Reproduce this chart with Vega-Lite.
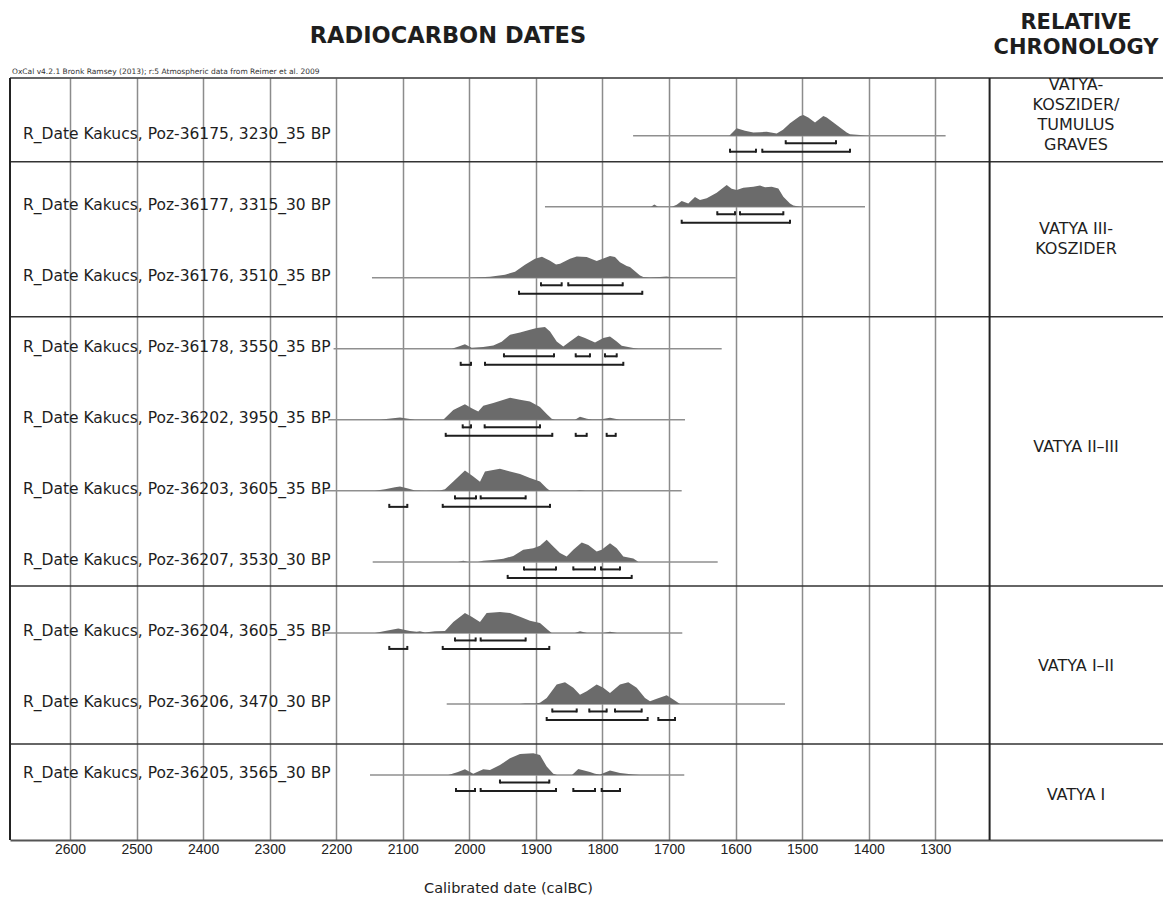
{
  "$schema": "https://vega.github.io/schema/vega-lite/v6.json",
  "width": 1153,
  "height": 762,
  "autosize": "none",
  "padding": {"left": 10, "top": 78, "right": 0, "bottom": 64},
  "background": "#ffffff",
  "config": {"view": {"stroke": null}, "font": "DejaVu Sans"},
  "resolve": {"scale": {"y": "independent"}},
  "datasets": {
    "samples": [
      {"row": 1, "label": "R_Date Kakucs, Poz-36175, 3230_35 BP", "from": 1754, "to": 1284.5},
      {"row": 2, "label": "R_Date Kakucs, Poz-36177, 3315_30 BP", "from": 1886.4, "to": 1405.6},
      {"row": 3, "label": "R_Date Kakucs, Poz-36176, 3510_35 BP", "from": 2146.3, "to": 1599.8},
      {"row": 4, "label": "R_Date Kakucs, Poz-36178, 3550_35 BP", "from": 2204, "to": 1620.9},
      {"row": 5, "label": "R_Date Kakucs, Poz-36202, 3950_35 BP", "from": 2211.9, "to": 1676},
      {"row": 6, "label": "R_Date Kakucs, Poz-36203, 3605_35 BP", "from": 2216.9, "to": 1681},
      {"row": 7, "label": "R_Date Kakucs, Poz-36207, 3530_30 BP", "from": 2145.2, "to": 1626.9},
      {"row": 8, "label": "R_Date Kakucs, Poz-36204, 3605_35 BP", "from": 2216.9, "to": 1680.1},
      {"row": 9, "label": "R_Date Kakucs, Poz-36206, 3470_30 BP", "from": 2034, "to": 1525.8},
      {"row": 10, "label": "R_Date Kakucs, Poz-36205, 3565_30 BP", "from": 2149.3, "to": 1677.1}
    ],
    "sigma68": [
      {"row": 1, "from": 1524.7, "to": 1449.2},
      {"row": 2, "from": 1627.5, "to": 1600.9}, {"row": 2, "from": 1593.4, "to": 1528.3},
      {"row": 3, "from": 1892.4, "to": 1861.3}, {"row": 3, "from": 1851.4, "to": 1769.6},
      {"row": 4, "from": 1948, "to": 1872.8}, {"row": 4, "from": 1840.2, "to": 1818.8}, {"row": 4, "from": 1796.2, "to": 1778.6},
      {"row": 5, "from": 2010, "to": 1997.5}, {"row": 5, "from": 1977, "to": 1893.9},
      {"row": 6, "from": 2021.6, "to": 1990}, {"row": 6, "from": 1983, "to": 1915.4},
      {"row": 7, "from": 1917.9, "to": 1869.8}, {"row": 7, "from": 1843.8, "to": 1811.2}, {"row": 7, "from": 1802.2, "to": 1773.7},
      {"row": 8, "from": 2021.6, "to": 1990.5}, {"row": 8, "from": 1983, "to": 1915.4},
      {"row": 9, "from": 1875.4, "to": 1838.7}, {"row": 9, "from": 1819.8, "to": 1793.7}, {"row": 9, "from": 1781.2, "to": 1741.1},
      {"row": 10, "from": 1954, "to": 1879.9}
    ],
    "sigma95": [
      {"row": 1, "from": 1608.4, "to": 1569.4}, {"row": 1, "from": 1559.9, "to": 1428.1},
      {"row": 2, "from": 1681, "to": 1518.3},
      {"row": 3, "from": 1925.4, "to": 1740.2},
      {"row": 4, "from": 2013, "to": 1997.5}, {"row": 4, "from": 1976.5, "to": 1768.7},
      {"row": 5, "from": 2035.5, "to": 1875.4}, {"row": 5, "from": 1840.2, "to": 1823.7}, {"row": 5, "from": 1793.7, "to": 1780.1},
      {"row": 6, "from": 2120.3, "to": 2093.2}, {"row": 6, "from": 2040, "to": 1878.8},
      {"row": 7, "from": 1942.4, "to": 1756.1},
      {"row": 8, "from": 2120.3, "to": 2093.2}, {"row": 8, "from": 2040, "to": 1879.9},
      {"row": 9, "from": 1883.8, "to": 1732.1}, {"row": 9, "from": 1716.1, "to": 1691},
      {"row": 10, "from": 2020.1, "to": 1991.5}, {"row": 10, "from": 1983, "to": 1869.8}, {"row": 10, "from": 1843.8, "to": 1811.2}, {"row": 10, "from": 1801.2, "to": 1773.7}
    ],
    "density": [
      {"row": 1, "year": 1609.5, "p": 0}, {"row": 1, "year": 1598.4, "p": 0.34}, {"row": 1, "year": 1585.9, "p": 0.23}, {"row": 1, "year": 1573.4, "p": 0.14}, {"row": 1, "year": 1563.3, "p": 0.16}, {"row": 1, "year": 1553.3, "p": 0.18}, {"row": 1, "year": 1538.3, "p": 0.1}, {"row": 1, "year": 1528.8, "p": 0.27}, {"row": 1, "year": 1518.3, "p": 0.56}, {"row": 1, "year": 1503.2, "p": 0.9}, {"row": 1, "year": 1498.3, "p": 0.94}, {"row": 1, "year": 1490.8, "p": 0.83}, {"row": 1, "year": 1480.7, "p": 0.6}, {"row": 1, "year": 1468.2, "p": 0.9}, {"row": 1, "year": 1463.1, "p": 0.83}, {"row": 1, "year": 1448.1, "p": 0.49}, {"row": 1, "year": 1433.1, "p": 0.14}, {"row": 1, "year": 1428.1, "p": 0.06}, {"row": 1, "year": 1413.1, "p": 0.03}, {"row": 1, "year": 1404.1, "p": 0},
      {"row": 2, "year": 1727.1, "p": 0}, {"row": 2, "year": 1722.1, "p": 0.1}, {"row": 2, "year": 1716.6, "p": 0}, {"row": 2, "year": 1695.6, "p": 0}, {"row": 2, "year": 1688.5, "p": 0.09}, {"row": 2, "year": 1681, "p": 0.26}, {"row": 2, "year": 1671.1, "p": 0.15}, {"row": 2, "year": 1661, "p": 0.44}, {"row": 2, "year": 1653.5, "p": 0.3}, {"row": 2, "year": 1643.4, "p": 0.38}, {"row": 2, "year": 1628.4, "p": 0.64}, {"row": 2, "year": 1613.4, "p": 0.99}, {"row": 2, "year": 1605.9, "p": 0.82}, {"row": 2, "year": 1598.4, "p": 0.76}, {"row": 2, "year": 1588.4, "p": 0.86}, {"row": 2, "year": 1573.4, "p": 0.91}, {"row": 2, "year": 1563.3, "p": 0.97}, {"row": 2, "year": 1555.8, "p": 0.88}, {"row": 2, "year": 1545.8, "p": 0.91}, {"row": 2, "year": 1535.8, "p": 0.83}, {"row": 2, "year": 1528.3, "p": 0.45}, {"row": 2, "year": 1518.3, "p": 0.15}, {"row": 2, "year": 1513.3, "p": 0.06}, {"row": 2, "year": 1503.2, "p": 0},
      {"row": 3, "year": 1999, "p": 0}, {"row": 3, "year": 1969, "p": 0.05}, {"row": 3, "year": 1946.5, "p": 0.14}, {"row": 3, "year": 1931.4, "p": 0.27}, {"row": 3, "year": 1916.4, "p": 0.59}, {"row": 3, "year": 1901.4, "p": 0.86}, {"row": 3, "year": 1890.9, "p": 0.95}, {"row": 3, "year": 1878.8, "p": 0.77}, {"row": 3, "year": 1869.8, "p": 0.6}, {"row": 3, "year": 1863.8, "p": 0.64}, {"row": 3, "year": 1848.8, "p": 0.86}, {"row": 3, "year": 1838.7, "p": 0.97}, {"row": 3, "year": 1823.7, "p": 0.94}, {"row": 3, "year": 1808.7, "p": 0.76}, {"row": 3, "year": 1788.7, "p": 0.99}, {"row": 3, "year": 1781.2, "p": 0.94}, {"row": 3, "year": 1773.7, "p": 0.71}, {"row": 3, "year": 1763.6, "p": 0.53}, {"row": 3, "year": 1758.7, "p": 0.49}, {"row": 3, "year": 1743.6, "p": 0.1}, {"row": 3, "year": 1738.7, "p": 0.03}, {"row": 3, "year": 1728.6, "p": 0.01}, {"row": 3, "year": 1713.6, "p": 0.03}, {"row": 3, "year": 1703.5, "p": 0.06}, {"row": 3, "year": 1693.6, "p": 0},
      {"row": 4, "year": 2026.5, "p": 0}, {"row": 4, "year": 2017.1, "p": 0.09}, {"row": 4, "year": 2006.6, "p": 0.21}, {"row": 4, "year": 1996.5, "p": 0.05}, {"row": 4, "year": 1979.1, "p": 0.08}, {"row": 4, "year": 1964, "p": 0.15}, {"row": 4, "year": 1951.4, "p": 0.32}, {"row": 4, "year": 1938.9, "p": 0.64}, {"row": 4, "year": 1923.9, "p": 0.74}, {"row": 4, "year": 1908.9, "p": 0.86}, {"row": 4, "year": 1898.8, "p": 0.94}, {"row": 4, "year": 1886.4, "p": 0.99}, {"row": 4, "year": 1878.8, "p": 0.79}, {"row": 4, "year": 1868.8, "p": 0.33}, {"row": 4, "year": 1858.9, "p": 0.1}, {"row": 4, "year": 1848.8, "p": 0.33}, {"row": 4, "year": 1836.3, "p": 0.6}, {"row": 4, "year": 1826.3, "p": 0.49}, {"row": 4, "year": 1811.2, "p": 0.29}, {"row": 4, "year": 1798.8, "p": 0.49}, {"row": 4, "year": 1788.7, "p": 0.56}, {"row": 4, "year": 1778.6, "p": 0.33}, {"row": 4, "year": 1771.1, "p": 0.14}, {"row": 4, "year": 1753.7, "p": 0.03}, {"row": 4, "year": 1746.2, "p": 0},
      {"row": 5, "year": 2134.3, "p": 0}, {"row": 5, "year": 2121.8, "p": 0.05}, {"row": 5, "year": 2104.2, "p": 0.1}, {"row": 5, "year": 2091.7, "p": 0.05}, {"row": 5, "year": 2081.7, "p": 0}, {"row": 5, "year": 2039.2, "p": 0}, {"row": 5, "year": 2024.1, "p": 0.45}, {"row": 5, "year": 2006.6, "p": 0.71}, {"row": 5, "year": 1996.5, "p": 0.53}, {"row": 5, "year": 1986.6, "p": 0.38}, {"row": 5, "year": 1979.1, "p": 0.64}, {"row": 5, "year": 1964, "p": 0.76}, {"row": 5, "year": 1938.9, "p": 1}, {"row": 5, "year": 1923.9, "p": 0.91}, {"row": 5, "year": 1908.9, "p": 0.83}, {"row": 5, "year": 1893.9, "p": 0.58}, {"row": 5, "year": 1883.8, "p": 0.26}, {"row": 5, "year": 1876.3, "p": 0.05}, {"row": 5, "year": 1871.3, "p": 0}, {"row": 5, "year": 1841.3, "p": 0}, {"row": 5, "year": 1833.8, "p": 0.14}, {"row": 5, "year": 1823.3, "p": 0.05}, {"row": 5, "year": 1815.7, "p": 0.02}, {"row": 5, "year": 1803.7, "p": 0.01}, {"row": 5, "year": 1788.7, "p": 0.09}, {"row": 5, "year": 1773.7, "p": 0},
      {"row": 6, "year": 2141.8, "p": 0}, {"row": 6, "year": 2126.7, "p": 0.07}, {"row": 6, "year": 2111.7, "p": 0.16}, {"row": 6, "year": 2104.2, "p": 0.2}, {"row": 6, "year": 2092.2, "p": 0.11}, {"row": 6, "year": 2081.7, "p": 0.02}, {"row": 6, "year": 2066.6, "p": 0}, {"row": 6, "year": 2044.1, "p": 0.02}, {"row": 6, "year": 2036.6, "p": 0.07}, {"row": 6, "year": 2024.1, "p": 0.42}, {"row": 6, "year": 2006.6, "p": 0.92}, {"row": 6, "year": 1994.1, "p": 0.65}, {"row": 6, "year": 1984, "p": 0.41}, {"row": 6, "year": 1976.5, "p": 0.88}, {"row": 6, "year": 1954, "p": 1}, {"row": 6, "year": 1938.9, "p": 0.88}, {"row": 6, "year": 1923.9, "p": 0.77}, {"row": 6, "year": 1908.9, "p": 0.58}, {"row": 6, "year": 1893.9, "p": 0.42}, {"row": 6, "year": 1883.8, "p": 0.12}, {"row": 6, "year": 1878.8, "p": 0}, {"row": 6, "year": 1840, "p": 0}, {"row": 6, "year": 1833.8, "p": 0.03}, {"row": 6, "year": 1826, "p": 0}, {"row": 6, "year": 1795, "p": 0}, {"row": 6, "year": 1788.7, "p": 0.02}, {"row": 6, "year": 1782, "p": 0},
      {"row": 7, "year": 2017.1, "p": 0}, {"row": 7, "year": 2009.1, "p": 0.05}, {"row": 7, "year": 2002, "p": 0}, {"row": 7, "year": 1987, "p": 0.01}, {"row": 7, "year": 1979.1, "p": 0.05}, {"row": 7, "year": 1964, "p": 0.09}, {"row": 7, "year": 1949, "p": 0.14}, {"row": 7, "year": 1934, "p": 0.27}, {"row": 7, "year": 1919, "p": 0.55}, {"row": 7, "year": 1903.9, "p": 0.62}, {"row": 7, "year": 1893.9, "p": 0.73}, {"row": 7, "year": 1883.8, "p": 1}, {"row": 7, "year": 1873.9, "p": 0.7}, {"row": 7, "year": 1863.8, "p": 0.4}, {"row": 7, "year": 1853.8, "p": 0.24}, {"row": 7, "year": 1843.8, "p": 0.55}, {"row": 7, "year": 1831.2, "p": 0.88}, {"row": 7, "year": 1821.3, "p": 0.77}, {"row": 7, "year": 1808.7, "p": 0.47}, {"row": 7, "year": 1801.2, "p": 0.55}, {"row": 7, "year": 1788.7, "p": 0.85}, {"row": 7, "year": 1778.6, "p": 0.62}, {"row": 7, "year": 1768.7, "p": 0.24}, {"row": 7, "year": 1753.7, "p": 0.15}, {"row": 7, "year": 1746.2, "p": 0},
      {"row": 8, "year": 2141.8, "p": 0}, {"row": 8, "year": 2126.7, "p": 0.09}, {"row": 8, "year": 2106.8, "p": 0.2}, {"row": 8, "year": 2089.2, "p": 0.09}, {"row": 8, "year": 2079.2, "p": 0.05}, {"row": 8, "year": 2074.2, "p": 0.07}, {"row": 8, "year": 2066.6, "p": 0.02}, {"row": 8, "year": 2051.6, "p": 0.07}, {"row": 8, "year": 2036.6, "p": 0.09}, {"row": 8, "year": 2024.1, "p": 0.5}, {"row": 8, "year": 2006.6, "p": 0.91}, {"row": 8, "year": 1996.5, "p": 0.73}, {"row": 8, "year": 1984, "p": 0.5}, {"row": 8, "year": 1974, "p": 0.91}, {"row": 8, "year": 1954, "p": 0.95}, {"row": 8, "year": 1938.9, "p": 0.91}, {"row": 8, "year": 1923.9, "p": 0.73}, {"row": 8, "year": 1908.9, "p": 0.55}, {"row": 8, "year": 1893.9, "p": 0.45}, {"row": 8, "year": 1881.4, "p": 0.12}, {"row": 8, "year": 1876.3, "p": 0}, {"row": 8, "year": 1841.3, "p": 0}, {"row": 8, "year": 1833.8, "p": 0.08}, {"row": 8, "year": 1823.3, "p": 0}, {"row": 8, "year": 1799, "p": 0}, {"row": 8, "year": 1788.7, "p": 0.05}, {"row": 8, "year": 1778.2, "p": 0},
      {"row": 9, "year": 1923.9, "p": 0}, {"row": 9, "year": 1916.4, "p": 0.02}, {"row": 9, "year": 1901.4, "p": 0.02}, {"row": 9, "year": 1893.9, "p": 0.05}, {"row": 9, "year": 1883.8, "p": 0.27}, {"row": 9, "year": 1868.8, "p": 0.88}, {"row": 9, "year": 1856.3, "p": 0.99}, {"row": 9, "year": 1843.8, "p": 0.73}, {"row": 9, "year": 1833.8, "p": 0.42}, {"row": 9, "year": 1823.7, "p": 0.58}, {"row": 9, "year": 1808.7, "p": 0.88}, {"row": 9, "year": 1798.8, "p": 0.73}, {"row": 9, "year": 1788.7, "p": 0.5}, {"row": 9, "year": 1773.7, "p": 0.88}, {"row": 9, "year": 1761.2, "p": 0.99}, {"row": 9, "year": 1748.6, "p": 0.73}, {"row": 9, "year": 1736.1, "p": 0.27}, {"row": 9, "year": 1728.6, "p": 0.12}, {"row": 9, "year": 1718.5, "p": 0.23}, {"row": 9, "year": 1703.5, "p": 0.4}, {"row": 9, "year": 1693.6, "p": 0.2}, {"row": 9, "year": 1683.5, "p": 0},
      {"row": 10, "year": 2031.6, "p": 0}, {"row": 10, "year": 2017.1, "p": 0.14}, {"row": 10, "year": 2006.6, "p": 0.26}, {"row": 10, "year": 1994.1, "p": 0.05}, {"row": 10, "year": 1979.1, "p": 0.26}, {"row": 10, "year": 1969, "p": 0.23}, {"row": 10, "year": 1954, "p": 0.45}, {"row": 10, "year": 1938.9, "p": 0.76}, {"row": 10, "year": 1923.9, "p": 0.95}, {"row": 10, "year": 1903.9, "p": 0.99}, {"row": 10, "year": 1893.9, "p": 0.91}, {"row": 10, "year": 1883.8, "p": 0.38}, {"row": 10, "year": 1873.9, "p": 0.05}, {"row": 10, "year": 1868.3, "p": 0}, {"row": 10, "year": 1845.8, "p": 0}, {"row": 10, "year": 1836.3, "p": 0.27}, {"row": 10, "year": 1818.8, "p": 0.14}, {"row": 10, "year": 1811.2, "p": 0.05}, {"row": 10, "year": 1803.7, "p": 0.02}, {"row": 10, "year": 1788.7, "p": 0.2}, {"row": 10, "year": 1773.7, "p": 0.09}, {"row": 10, "year": 1754.1, "p": 0.02}, {"row": 10, "year": 1743.6, "p": 0}
    ],
    "bounds": [{"b": 0.1877}, {"b": 1.366}, {"b": 3.548}, {"b": 7.34}, {"b": 9.564}],
    "groups": [
      {"label": "VATYA-\nKOSZIDER/\nTUMULUS\nGRAVES", "y": 0.286},
      {"label": "VATYA III-\nKOSZIDER", "y": 2.313},
      {"label": "VATYA II–III", "y": 5.383},
      {"label": "VATYA I–II", "y": 8.466},
      {"label": "VATYA I", "y": 10.282}
    ]
  },
  "layer": [
    {
      "data": {"name": "samples"},
      "mark": {"type": "rule", "color": "#8f8f8f", "strokeWidth": 1.5},
      "encoding": {
        "x": {
          "field": "from", "type": "quantitative",
          "scale": {"domain": [957.9, 2690.1], "reverse": true, "nice": false, "zero": false},
          "axis": {
            "values": [2600, 2500, 2400, 2300, 2200, 2100, 2000, 1900, 1800, 1700, 1600, 1500, 1400, 1300],
            "format": "d", "grid": true, "gridColor": "#8c8c8c", "gridWidth": 1.5,
            "ticks": false, "domainColor": "#555555", "domainWidth": 2,
            "labelFont": "Liberation Sans", "labelFontSize": 14, "labelColor": "#222222", "labelPadding": 2, "labelFlush": false, "labelOverlap": false,
            "title": "Calibrated date (calBC)", "titleFont": "DejaVu Sans", "titleFontSize": 14.5, "titleFontWeight": "normal", "titleColor": "#222222",
            "titleX": 498, "titleY": 52, "titleAlign": "center", "titleBaseline": "alphabetic"
          }
        },
        "x2": {"field": "to"},
        "y": {"field": "row", "type": "quantitative", "scale": {"domain": [0.1877, 10.915], "reverse": true, "nice": false, "zero": false}, "axis": null}
      }
    },
    {"data": {"name": "density"}, "transform": [{"filter": {"field": "row", "equal": 1}}], "mark": {"type": "area", "color": "#6b6b6b", "interpolate": "linear"},
      "encoding": {"x": {"field": "year", "type": "quantitative"}, "y": {"field": "p", "type": "quantitative", "stack": null, "axis": null, "scale": {"domain": [-32.014, 2.622], "nice": false, "zero": false}}, "y2": {"datum": 0}}},
    {"data": {"name": "density"}, "transform": [{"filter": {"field": "row", "equal": 2}}], "mark": {"type": "area", "color": "#6b6b6b", "interpolate": "linear"},
      "encoding": {"x": {"field": "year", "type": "quantitative"}, "y": {"field": "p", "type": "quantitative", "stack": null, "axis": null, "scale": {"domain": [-28.785, 5.851], "nice": false, "zero": false}}, "y2": {"datum": 0}}},
    {"data": {"name": "density"}, "transform": [{"filter": {"field": "row", "equal": 3}}], "mark": {"type": "area", "color": "#6b6b6b", "interpolate": "linear"},
      "encoding": {"x": {"field": "year", "type": "quantitative"}, "y": {"field": "p", "type": "quantitative", "stack": null, "axis": null, "scale": {"domain": [-25.556, 9.08], "nice": false, "zero": false}}, "y2": {"datum": 0}}},
    {"data": {"name": "density"}, "transform": [{"filter": {"field": "row", "equal": 4}}], "mark": {"type": "area", "color": "#6b6b6b", "interpolate": "linear"},
      "encoding": {"x": {"field": "year", "type": "quantitative"}, "y": {"field": "p", "type": "quantitative", "stack": null, "axis": null, "scale": {"domain": [-22.328, 12.308], "nice": false, "zero": false}}, "y2": {"datum": 0}}},
    {"data": {"name": "density"}, "transform": [{"filter": {"field": "row", "equal": 5}}], "mark": {"type": "area", "color": "#6b6b6b", "interpolate": "linear"},
      "encoding": {"x": {"field": "year", "type": "quantitative"}, "y": {"field": "p", "type": "quantitative", "stack": null, "axis": null, "scale": {"domain": [-19.099, 15.537], "nice": false, "zero": false}}, "y2": {"datum": 0}}},
    {"data": {"name": "density"}, "transform": [{"filter": {"field": "row", "equal": 6}}], "mark": {"type": "area", "color": "#6b6b6b", "interpolate": "linear"},
      "encoding": {"x": {"field": "year", "type": "quantitative"}, "y": {"field": "p", "type": "quantitative", "stack": null, "axis": null, "scale": {"domain": [-15.87, 18.766], "nice": false, "zero": false}}, "y2": {"datum": 0}}},
    {"data": {"name": "density"}, "transform": [{"filter": {"field": "row", "equal": 7}}], "mark": {"type": "area", "color": "#6b6b6b", "interpolate": "linear"},
      "encoding": {"x": {"field": "year", "type": "quantitative"}, "y": {"field": "p", "type": "quantitative", "stack": null, "axis": null, "scale": {"domain": [-12.642, 21.994], "nice": false, "zero": false}}, "y2": {"datum": 0}}},
    {"data": {"name": "density"}, "transform": [{"filter": {"field": "row", "equal": 8}}], "mark": {"type": "area", "color": "#6b6b6b", "interpolate": "linear"},
      "encoding": {"x": {"field": "year", "type": "quantitative"}, "y": {"field": "p", "type": "quantitative", "stack": null, "axis": null, "scale": {"domain": [-9.413, 25.223], "nice": false, "zero": false}}, "y2": {"datum": 0}}},
    {"data": {"name": "density"}, "transform": [{"filter": {"field": "row", "equal": 9}}], "mark": {"type": "area", "color": "#6b6b6b", "interpolate": "linear"},
      "encoding": {"x": {"field": "year", "type": "quantitative"}, "y": {"field": "p", "type": "quantitative", "stack": null, "axis": null, "scale": {"domain": [-6.185, 28.451], "nice": false, "zero": false}}, "y2": {"datum": 0}}},
    {"data": {"name": "density"}, "transform": [{"filter": {"field": "row", "equal": 10}}], "mark": {"type": "area", "color": "#6b6b6b", "interpolate": "linear"},
      "encoding": {"x": {"field": "year", "type": "quantitative"}, "y": {"field": "p", "type": "quantitative", "stack": null, "axis": null, "scale": {"domain": [-2.956, 31.68], "nice": false, "zero": false}}, "y2": {"datum": 0}}},
    {
      "data": {"name": "sigma68"},
      "mark": {"type": "rule", "color": "#1e1e1e", "strokeWidth": 2, "yOffset": 7.5},
      "encoding": {
        "x": {"field": "from", "type": "quantitative"},
        "x2": {"field": "to"},
        "y": {"field": "row", "type": "quantitative", "axis": null, "scale": {"domain": [0.1877, 10.915], "reverse": true, "nice": false, "zero": false}}
      }
    },
    {
      "data": {"name": "sigma68"},
      "mark": {"type": "rule", "color": "#1e1e1e", "strokeWidth": 2, "yOffset": 8.5, "y2Offset": 4.5},
      "encoding": {
        "x": {"field": "from", "type": "quantitative"},
        "y": {"field": "row", "type": "quantitative", "axis": null, "scale": {"domain": [0.1877, 10.915], "reverse": true, "nice": false, "zero": false}},
        "y2": {"field": "row"}
      }
    },
    {
      "data": {"name": "sigma68"},
      "mark": {"type": "rule", "color": "#1e1e1e", "strokeWidth": 2, "yOffset": 8.5, "y2Offset": 4.5},
      "encoding": {
        "x": {"field": "to", "type": "quantitative"},
        "y": {"field": "row", "type": "quantitative", "axis": null, "scale": {"domain": [0.1877, 10.915], "reverse": true, "nice": false, "zero": false}},
        "y2": {"field": "row"}
      }
    },
    {
      "data": {"name": "sigma95"},
      "mark": {"type": "rule", "color": "#1e1e1e", "strokeWidth": 2, "yOffset": 16},
      "encoding": {
        "x": {"field": "from", "type": "quantitative"},
        "x2": {"field": "to"},
        "y": {"field": "row", "type": "quantitative", "axis": null, "scale": {"domain": [0.1877, 10.915], "reverse": true, "nice": false, "zero": false}}
      }
    },
    {
      "data": {"name": "sigma95"},
      "mark": {"type": "rule", "color": "#1e1e1e", "strokeWidth": 2, "yOffset": 17, "y2Offset": 13},
      "encoding": {
        "x": {"field": "from", "type": "quantitative"},
        "y": {"field": "row", "type": "quantitative", "axis": null, "scale": {"domain": [0.1877, 10.915], "reverse": true, "nice": false, "zero": false}},
        "y2": {"field": "row"}
      }
    },
    {
      "data": {"name": "sigma95"},
      "mark": {"type": "rule", "color": "#1e1e1e", "strokeWidth": 2, "yOffset": 17, "y2Offset": 13},
      "encoding": {
        "x": {"field": "to", "type": "quantitative"},
        "y": {"field": "row", "type": "quantitative", "axis": null, "scale": {"domain": [0.1877, 10.915], "reverse": true, "nice": false, "zero": false}},
        "y2": {"field": "row"}
      }
    },
    {
      "data": {"name": "bounds"},
      "mark": {"type": "rule", "color": "#333333", "strokeWidth": 1.5},
      "encoding": {"y": {"field": "b", "type": "quantitative", "axis": null, "scale": {"domain": [0.1877, 10.915], "reverse": true, "nice": false, "zero": false}}}
    },
    {
      "data": {"values": [{}]},
      "mark": {"type": "rule", "color": "#222222", "strokeWidth": 2},
      "encoding": {"x": {"datum": 2690.1}}
    },
    {
      "data": {"values": [{}]},
      "mark": {"type": "rule", "color": "#222222", "strokeWidth": 2},
      "encoding": {"x": {"datum": 1218.4}}
    },
    {
      "data": {"name": "samples"},
      "mark": {"type": "text", "align": "left", "baseline": "middle", "font": "DejaVu Sans", "fontSize": 15.5, "color": "#1e1e1e", "dy": -2},
      "encoding": {
        "x": {"datum": 2670.6},
        "y": {"field": "row", "type": "quantitative", "axis": null, "scale": {"domain": [0.1877, 10.915], "reverse": true, "nice": false, "zero": false}},
        "text": {"field": "label"}
      }
    },
    {
      "data": {"name": "groups"},
      "mark": {"type": "text", "align": "center", "baseline": "middle", "font": "DejaVu Sans", "fontSize": 16, "lineBreak": "\n", "lineHeight": 20, "color": "#1e1e1e"},
      "encoding": {
        "x": {"datum": 1088.6},
        "y": {"field": "y", "type": "quantitative", "axis": null, "scale": {"domain": [0.1877, 10.915], "reverse": true, "nice": false, "zero": false}},
        "text": {"field": "label"}
      }
    },
    {
      "data": {"values": [{"t": "RELATIVE\nCHRONOLOGY"}]},
      "mark": {"type": "text", "align": "center", "baseline": "middle", "font": "DejaVu Sans", "fontSize": 21, "fontWeight": "bold", "lineBreak": "\n", "lineHeight": 25, "color": "#1e1e1e"},
      "encoding": {"x": {"datum": 1088.6}, "y": {"datum": -0.587, "scale": {"domain": [0.1877, 10.915], "reverse": true, "nice": false, "zero": false}, "axis": null}, "text": {"field": "t"}}
    },
    {
      "data": {"values": [{"t": "RADIOCARBON DATES"}]},
      "mark": {"type": "text", "align": "center", "baseline": "middle", "font": "DejaVu Sans", "fontSize": 22.5, "fontWeight": "bold", "color": "#1e1e1e"},
      "encoding": {"x": {"datum": 2032.1}, "y": {"datum": -0.404, "scale": {"domain": [0.1877, 10.915], "reverse": true, "nice": false, "zero": false}, "axis": null}, "text": {"field": "t"}}
    },
    {
      "data": {"values": [{"t": "OxCal v4.2.1 Bronk Ramsey (2013); r:5 Atmospheric data from Reimer et al. 2009"}]},
      "mark": {"type": "text", "align": "left", "baseline": "middle", "font": "DejaVu Sans", "fontSize": 7.5, "color": "#333333"},
      "encoding": {"x": {"datum": 2687.1}, "y": {"datum": 0.103, "scale": {"domain": [0.1877, 10.915], "reverse": true, "nice": false, "zero": false}, "axis": null}, "text": {"field": "t"}}
    }
  ]
}
